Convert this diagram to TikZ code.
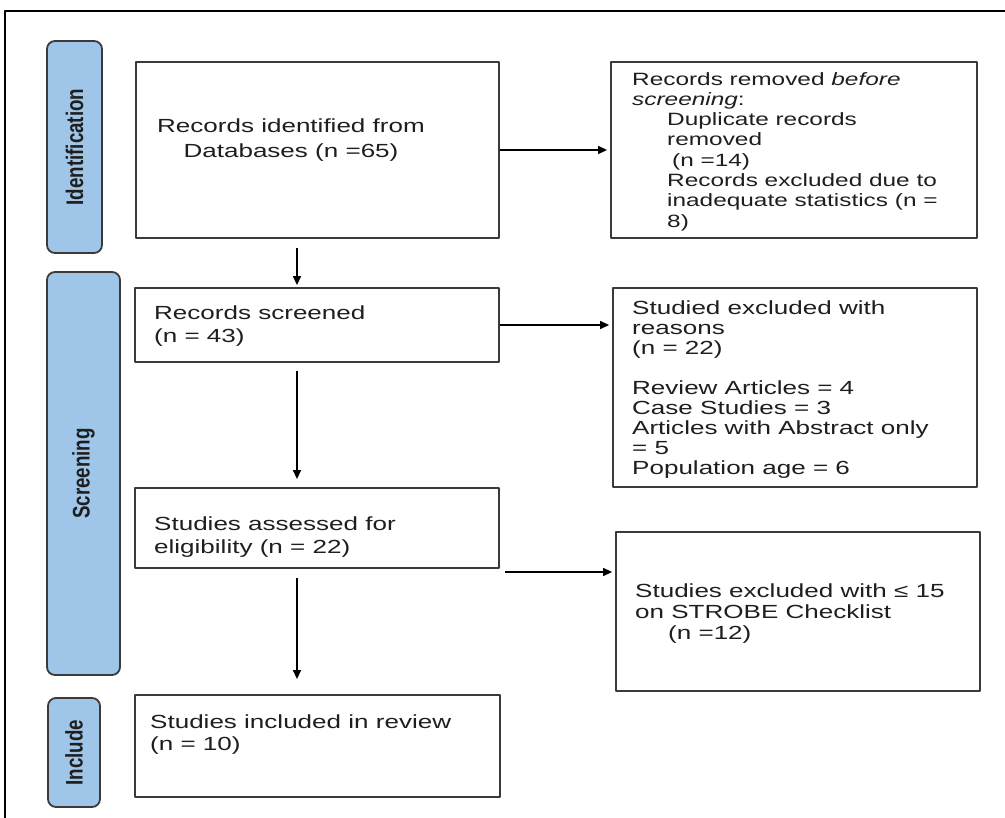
\documentclass[tikz,border=0pt]{standalone}
\usepackage{fontspec}
\setmainfont[FakeStretch=1.37]{Liberation Sans}
\newfontfamily\tagfont[FakeStretch=0.78]{Liberation Sans}
\usetikzlibrary{arrows.meta}
\definecolor{tagblue}{HTML}{9FC5E8}
\definecolor{edgegray}{HTML}{3A3A3A}
\definecolor{inkgray}{HTML}{1E1E1E}

\begin{document}
\begin{tikzpicture}[x=1pt, y=-1pt, line join=round,
  box/.style={draw=edgegray, line width=1.8pt, inner sep=0pt},
  tag/.style={draw=edgegray, fill=tagblue, line width=1.8pt, rounded corners=8pt, inner sep=0pt, rotate=90,
    text=inkgray, font=\tagfont\bfseries\fontsize{24}{28}\selectfont},
  txt/.style={inner sep=0pt, anchor=north west, align=left, text=inkgray, font=\fontsize{19}{23}\selectfont},
  arr/.style={line width=1.3pt, -{Triangle[length=9pt,width=8pt]}}]
\useasboundingbox (0,0) rectangle (1005,818);
% outer frame
\draw[line width=2.5pt] (5,818) -- (5,11) -- (1005,11);
% stage tags
\node[tag, minimum width=212pt, minimum height=55pt] (ident) at (74.5,147) {Identification};
\node[tag, minimum width=403pt, minimum height=73pt] (scr) at (83.5,473.5) {Screening};
\node[tag, minimum width=109pt, minimum height=52pt] (inc) at (74,752.5) {Include};
% boxes
\node[box, minimum width=363pt, minimum height=176pt] (recid) at (317.5,150) {};
\node[box, minimum width=366pt, minimum height=176pt] (removed) at (794,150) {};
\node[box, minimum width=364pt, minimum height=74pt] (screened) at (317,325) {};
\node[box, minimum width=364pt, minimum height=199pt] (excl) at (795,387.5) {};
\node[box, minimum width=364pt, minimum height=80pt] (assess) at (317,528) {};
\node[box, minimum width=364pt, minimum height=159pt] (strobe) at (798,611.5) {};
\node[box, minimum width=365pt, minimum height=102pt] (incl) at (317.5,746) {};
% texts
\node[txt, anchor=center, align=center, font=\fontsize{19}{25}\selectfont] (trecid) at (291,140) {Records identified from\\Databases (n =65)};
\node[txt, font=\fontsize{17.8}{20.3}\selectfont] (trem) at (632,72) {Records removed \textit{before}\\\textit{screening}:\\
  \hspace*{35pt}Duplicate records\\\hspace*{35pt}removed\\\hspace*{40pt}(n =14)\\
  \hspace*{35pt}Records excluded due to\\\hspace*{35pt}inadequate statistics (n =\\\hspace*{35pt}8)};
\node[txt] (tscr) at (154,306) {Records screened\\(n = 43)};
\node[txt, font=\fontsize{19}{20}\selectfont] (texcl) at (632,301) {Studied excluded with\\reasons\\(n = 22)\\[20pt]
  Review Articles = 4\\Case Studies = 3\\Articles with Abstract only\\= 5\\Population age = 6};
\node[txt] (tassess) at (154,517) {Studies assessed for\\eligibility (n = 22)};
\node[txt, font=\fontsize{19}{21}\selectfont] (tstrobe) at (635,584) {Studies excluded with ≤ 15\\on STROBE Checklist\\\hspace*{33pt}(n =12)};
\node[txt, font=\fontsize{19}{22}\selectfont] (tincl) at (150,715) {Studies included in review\\(n = 10)};
% arrows
\coordinate (col) at (297,0);
\coordinate (fork) at (505,572);
\draw[arr, shorten >=3pt] (recid.east) -- (removed.west);
\draw[arr, shorten <=9pt, shorten >=2pt] (recid.south -| col) -- (screened.north -| col);
\draw[arr, shorten >=3pt] (screened.east) -- (screened.east -| excl.west);
\draw[arr, shorten <=8pt, shorten >=8pt] (screened.south -| col) -- (assess.north -| col);
\draw[arr, shorten >=3pt] (fork) -- (fork -| strobe.west);
\draw[arr, shorten <=9pt, shorten >=15pt] (assess.south -| col) -- (incl.north -| col);
\end{tikzpicture}
\end{document}
